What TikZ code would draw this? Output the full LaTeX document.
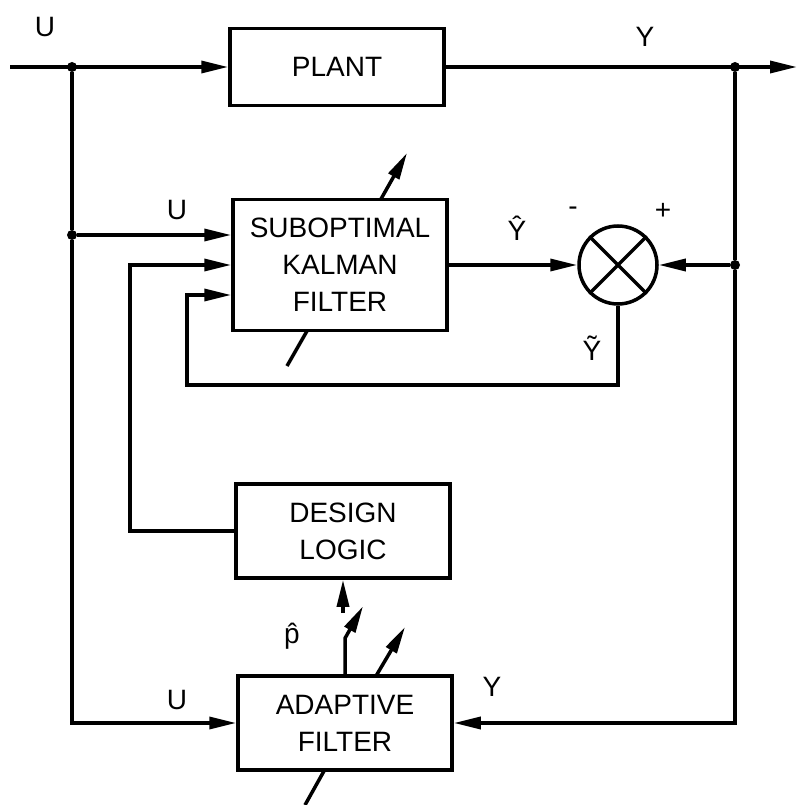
\documentclass[tikz,border=0pt]{standalone}
\usepackage{fontspec}
\setmainfont{Liberation Sans}
\usetikzlibrary{arrows.meta,positioning}
\tikzset{
  block/.style = {draw, line width=3.5pt, fill=white, minimum width=214pt,
                  align=center, inner sep=0pt, font=\fontsize{28}{37}\selectfont},
  wire/.style  = {line width=3.5pt},
  sig/.style   = {wire, -{Triangle[length=27pt,width=12pt]}},
  dot/.style   = {circle, fill=black, inner sep=0pt, minimum size=10pt},
  sumj/.style  = {circle, draw, line width=3.5pt, minimum size=78pt, inner sep=0pt},
  lbl/.style   = {font=\fontsize{28}{32}\selectfont},
}
\begin{document}
\begin{tikzpicture}[x=1pt,y=-1pt]
  \useasboundingbox (0,0) rectangle (798,805);
  % blocks
  \node[block, minimum height=77pt] (plant) at (337,67) {PLANT};
  \node[block, minimum height=131pt] (kal) at (340,265) {SUBOPTIMAL\\KALMAN\\FILTER};
  \node[block, minimum height=94pt] (des) at (343,531) {DESIGN\\LOGIC};
  \node[block, minimum height=94pt] (adf) at (345,723) {ADAPTIVE\\FILTER};
  \node[sumj] (sum) at (618,265) {};
  \draw[wire] (sum.north west) -- (sum.south east) (sum.north east) -- (sum.south west);
  % junctions and ends
  \coordinate (in) at (10,67);
  \coordinate (out) at (797,67);
  \node[dot] (ju) at (72,67) {};
  \node[dot] (jk) at (72,235) {};
  \node[dot] (jy) at (735,67) {};
  \node[dot] (js) at (735,265) {};
  \coordinate (fb) at (187,385);
  \coordinate (dl) at (130,531);
  \coordinate (pt) at (343,613);
  % U and Y paths
  \draw[sig] (in) -- (plant);
  \draw[sig] (plant) -- (out);
  \draw[wire] (ju) -- (jk);
  \draw[sig] (jk) -- (jk -| kal.west);
  \draw[sig] (jk) |- (adf.west);
  \draw[wire] (jy) -- (js);
  \draw[sig] (js) -- (sum);
  \draw[sig] (js) |- (adf.east);
  % filter loop
  \draw[sig] (kal) -- (sum);
  \draw[sig] (sum.south) |- (fb) |- ([yshift=-30pt]kal.west);
  \draw[sig] (des.west) -- (dl) |- (kal.west);
  % p hat
  \draw[sig] (adf.north) -- ++(0,-36) -- ++(18,-32);
  \draw[sig] (pt) -- (des.south);
  % adjustment arrows
  \coordinate (ka1) at (287,366); \coordinate (ka2) at (307,331);
  \coordinate (ka3) at (381,199); \coordinate (ka4) at (407,153);
  \draw[wire] (ka1) -- (ka2);
  \draw[sig] (ka3) -- (ka4);
  \coordinate (aa1) at (305,805); \coordinate (aa2) at (324,771);
  \coordinate (aa3) at (376,676); \coordinate (aa4) at (405,627);
  \draw[wire] (aa1) -- (aa2);
  \draw[sig] (aa3) -- (aa4);
  % labels
  \node[lbl] (lu1) at (45,27) {U};
  \node[lbl] (ly1) at (645,37) {Y};
  \node[lbl] (lu2) at (177,210) {U};
  \node[lbl] (lyh) at (517,228) {\^{Y}};
  \node[lbl] (lm) at (573,211) {-};
  \node[lbl] (lp) at (663,211) {+};
  \node[lbl] (lyt) at (592,348) {\~{Y}};
  \node[lbl] (lph) at (292,636) {\^{p}};
  \node[lbl] (lu3) at (177,700) {U};
  \node[lbl] (ly2) at (492,687) {Y};
\end{tikzpicture}
\end{document}
